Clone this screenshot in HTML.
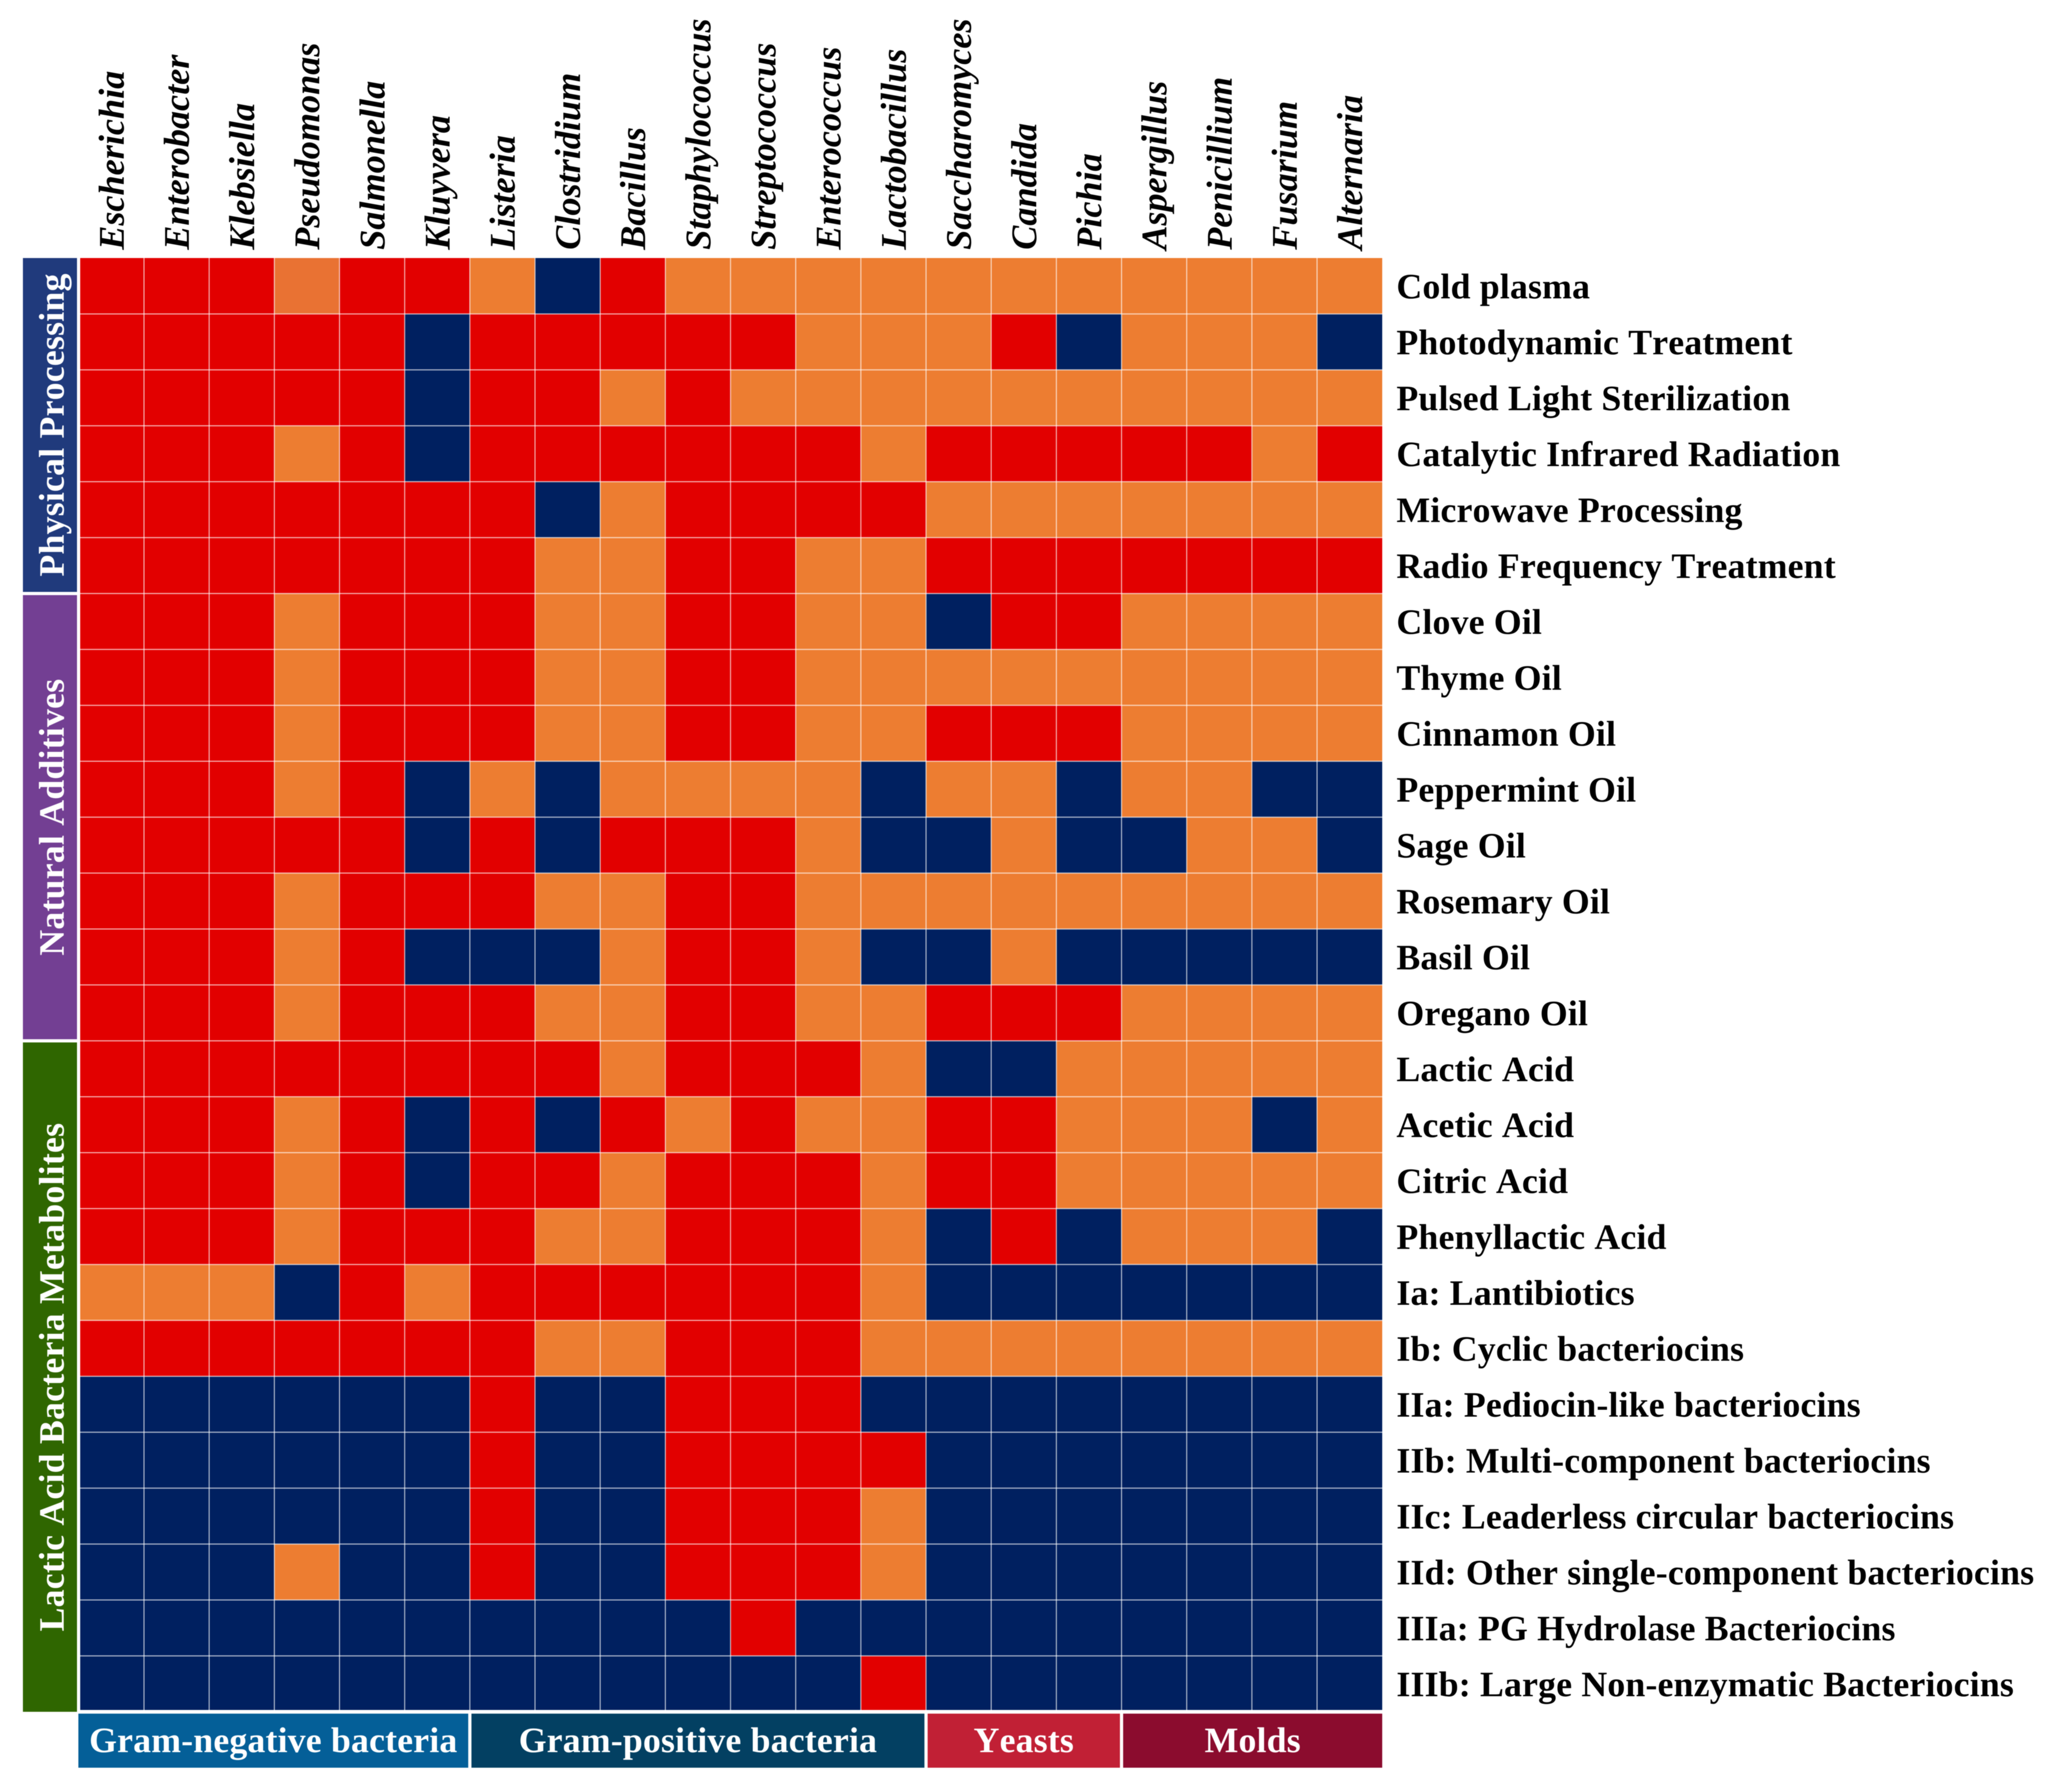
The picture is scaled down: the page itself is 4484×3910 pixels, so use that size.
<!DOCTYPE html>
<html lang="en">
<head>
<meta charset="utf-8">
<title>Antimicrobial efficacy heatmap</title>
<style>
  html, body { margin: 0; padding: 0; background: #ffffff; }
  svg { display: block; filter: blur(0.7px); }
  text { font-family: "Liberation Serif", "Times New Roman", serif; font-weight: 700; text-rendering: geometricPrecision; font-kerning: none; }
</style>
</head>
<body>
<svg id="chart" xmlns="http://www.w3.org/2000/svg" width="4484" height="3910" viewBox="0 0 4484 3910"></svg>
<script>
const genera = ["Escherichia","Enterobacter","Klebsiella","Pseudomonas","Salmonella","Kluyvera","Listeria","Clostridium","Bacillus","Staphylococcus","Streptococcus","Enterococcus","Lactobacillus","Saccharomyces","Candida","Pichia","Aspergillus","Penicillium","Fusarium","Alternaria"];
const treatments = ["Cold plasma","Photodynamic Treatment","Pulsed Light Sterilization","Catalytic Infrared Radiation","Microwave Processing","Radio Frequency Treatment","Clove Oil","Thyme Oil","Cinnamon Oil","Peppermint Oil","Sage Oil","Rosemary Oil","Basil Oil","Oregano Oil","Lactic Acid","Acetic Acid","Citric Acid","Phenyllactic Acid","Ia: Lantibiotics","Ib: Cyclic bacteriocins","IIa: Pediocin-like bacteriocins","IIb: Multi-component bacteriocins","IIc: Leaderless circular bacteriocins","IId: Other single-component bacteriocins","IIIa: PG Hydrolase Bacteriocins","IIIb: Large Non-enzymatic Bacteriocins"];
const treatmentGroups = ["Physical Processing","Natural Additives","Lactic Acid Bacteria Metabolites"];
const treatmentGroupSizes = [6, 8, 12];
const organismGroups = ["Gram-negative bacteria","Gram-positive bacteria","Yeasts","Molds"];
const organismGroupSizes = [6, 7, 3, 4];
/* 0 = navy, 1 = orange, 1.5 = deeper orange, 2 = red */
const values = [
  [2,2,2,1.5,2,2,1,0,2,1,1,1,1,1,1,1,1,1,1,1],
  [2,2,2,2,2,0,2,2,2,2,2,1,1,1,2,0,1,1,1,0],
  [2,2,2,2,2,0,2,2,1,2,1,1,1,1,1,1,1,1,1,1],
  [2,2,2,1,2,0,2,2,2,2,2,2,1,2,2,2,2,2,1,2],
  [2,2,2,2,2,2,2,0,1,2,2,2,2,1,1,1,1,1,1,1],
  [2,2,2,2,2,2,2,1,1,2,2,1,1,2,2,2,2,2,2,2],
  [2,2,2,1,2,2,2,1,1,2,2,1,1,0,2,2,1,1,1,1],
  [2,2,2,1,2,2,2,1,1,2,2,1,1,1,1,1,1,1,1,1],
  [2,2,2,1,2,2,2,1,1,2,2,1,1,2,2,2,1,1,1,1],
  [2,2,2,1,2,0,1,0,1,1,1,1,0,1,1,0,1,1,0,0],
  [2,2,2,2,2,0,2,0,2,2,2,1,0,0,1,0,0,1,1,0],
  [2,2,2,1,2,2,2,1,1,2,2,1,1,1,1,1,1,1,1,1],
  [2,2,2,1,2,0,0,0,1,2,2,1,0,0,1,0,0,0,0,0],
  [2,2,2,1,2,2,2,1,1,2,2,1,1,2,2,2,1,1,1,1],
  [2,2,2,2,2,2,2,2,1,2,2,2,1,0,0,1,1,1,1,1],
  [2,2,2,1,2,0,2,0,2,1,2,1,1,2,2,1,1,1,0,1],
  [2,2,2,1,2,0,2,2,1,2,2,2,1,2,2,1,1,1,1,1],
  [2,2,2,1,2,2,2,1,1,2,2,2,1,0,2,0,1,1,1,0],
  [1,1,1,0,2,1,2,2,2,2,2,2,1,0,0,0,0,0,0,0],
  [2,2,2,2,2,2,2,1,1,2,2,2,1,1,1,1,1,1,1,1],
  [0,0,0,0,0,0,2,0,0,2,2,2,0,0,0,0,0,0,0,0],
  [0,0,0,0,0,0,2,0,0,2,2,2,2,0,0,0,0,0,0,0],
  [0,0,0,0,0,0,2,0,0,2,2,2,1,0,0,0,0,0,0,0],
  [0,0,0,1,0,0,2,0,0,2,2,2,1,0,0,0,0,0,0,0],
  [0,0,0,0,0,0,0,0,0,0,2,0,0,0,0,0,0,0,0,0],
  [0,0,0,0,0,0,0,0,0,0,0,0,2,0,0,0,0,0,0,0]
];
const treatmentGroupColors = ["#203a7c","#733f93","#2f6600"];
const organismGroupColors = ["#045f98","#034062","#c12035","#8b0c2e"];

const NS = "http://www.w3.org/2000/svg";
const svg = document.getElementById("chart");
const gridLeft = 175, gridRight = 3016, gridTop = 563, gridBottom = 3731;

function colEdge(i) { return Math.min(gridRight, Math.max(gridLeft, 172 + 142.2 * i)); }
function rowEdge(i) { return Math.min(gridBottom, gridTop + 122 * i); }
function cellColor(v) {
  if (v < 0.5) return "#002060";
  if (v < 1.25) return "#ed7d31";
  if (v < 1.75) return "#e97233";
  return "#e20000";
}
function make(tag, attrs, parent) {
  const el = document.createElementNS(NS, tag);
  for (const k in attrs) el.setAttribute(k, attrs[k]);
  parent.appendChild(el);
  return el;
}

/* cells */
const cellLayer = make("g", {}, svg);


values.forEach(function (row, r) {
  row.forEach(function (v, c) {
    const cell = make("rect", {
      x: colEdge(c), y: rowEdge(r),
      width: colEdge(c + 1) - colEdge(c),
      height: rowEdge(r + 1) - rowEdge(r),
      fill: cellColor(v)
    }, cellLayer);
    
    
  });
});

/* grid lines */
const gridLayer = make("g", { stroke: "#ffffff", "stroke-opacity": "0.65", "stroke-width": "2.4" }, svg);


for (let c = 1; c < genera.length; c++) {
  const vLine = make("line", { x1: colEdge(c), x2: colEdge(c), y1: gridTop, y2: gridBottom }, gridLayer);
  
  
}
for (let r = 1; r < treatments.length; r++) {
  const hLine = make("line", { x1: gridLeft, x2: gridRight, y1: rowEdge(r), y2: rowEdge(r) }, gridLayer);
  
  
}

/* genus labels (top, rotated) */
genera.forEach(function (name, c) {
  const x = 270 + 142.2 * c;
  const t = make("text", {
    transform: "translate(" + x + ",545) rotate(-90)",
    "font-size": 79, "font-style": "italic", fill: "#000000"
  }, svg);
  t.textContent = name;
  
  
});

/* treatment labels (right) */
treatments.forEach(function (name, r) {
  const t = make("text", { x: 3047, y: 651 + 122 * r, "font-size": 78, "letter-spacing": 0.4, fill: "#000000" }, svg);
  t.textContent = name;
  
  
});

/* treatment group strips (left) */
let rowCursor = 0;
treatmentGroups.forEach(function (name, g) {
  const startRow = rowCursor, endRow = rowCursor + treatmentGroupSizes[g];
  const top = g === 0 ? gridTop : rowEdge(startRow) + 3.5;
  const bottom = endRow === treatments.length ? 3735 : rowEdge(endRow) - 3.5;
  const band = make("rect", { x: 50, y: top, width: 118, height: bottom - top, fill: treatmentGroupColors[g] }, svg);
  
  
  const t = make("text", {
    transform: "translate(139," + ((top + bottom) / 2) + ") rotate(-90)",
    "font-size": 78, "letter-spacing": 0.5, fill: "#ffffff", "text-anchor": "middle"
  }, svg);
  t.textContent = name;
  
  
  rowCursor = endRow;
});

/* organism group strips (bottom) */
let colCursor = 0;
organismGroups.forEach(function (name, g) {
  const startCol = colCursor, endCol = colCursor + organismGroupSizes[g];
  const left = g === 0 ? 171 : colEdge(startCol) + 3.5;
  const right = endCol === genera.length ? gridRight : colEdge(endCol) - 3.5;
  const band = make("rect", { x: left, y: 3739, width: right - left, height: 118, fill: organismGroupColors[g] }, svg);
  
  
  const t = make("text", {
    x: (left + right) / 2, y: 3823,
    "font-size": 78, "letter-spacing": 0.4, fill: "#ffffff", "text-anchor": "middle"
  }, svg);
  t.textContent = name;
  
  
  colCursor = endCol;
});
</script>
</body>
</html>
